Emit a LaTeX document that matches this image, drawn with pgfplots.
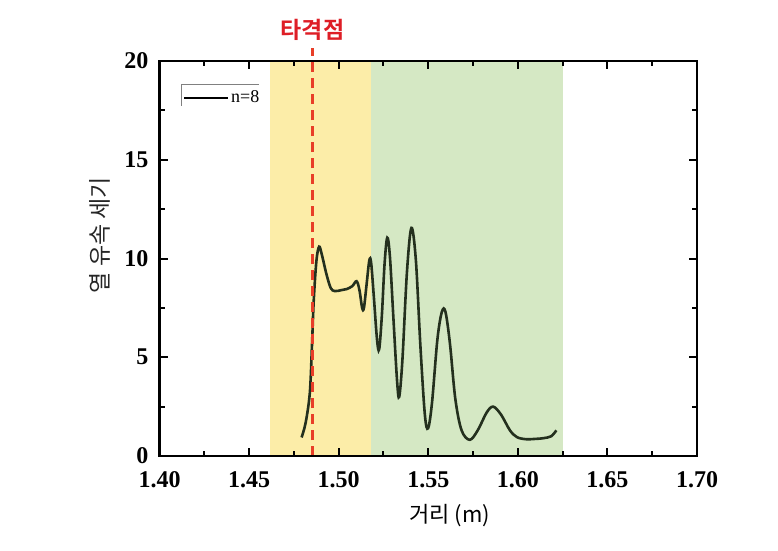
\documentclass[border=0pt]{standalone}
\usepackage{pgfplots}
\pgfplotsset{compat=1.18}
\usepackage{fontspec}
\setmainfont{Liberation Serif}
\newfontfamily\kr[BoldFont={Noto Sans CJK KR Bold}]{Noto Sans CJK KR}
\definecolor{bandY}{RGB}{252,237,168}
\definecolor{bandG}{RGB}{213,232,196}
\definecolor{curve}{RGB}{36,48,30}
\definecolor{hitred}{RGB}{232,62,40}
\definecolor{titlered}{RGB}{222,30,38}
\begin{document}
\begin{tikzpicture}
\useasboundingbox (0,0) rectangle (778pt,550pt);
\begin{axis}[
  at={(159.5pt,94pt)}, anchor=south west,
  scale only axis, width=537.5pt, height=395pt,
  xmin=1.4, xmax=1.7, ymin=0, ymax=20,
  xtick={1.4,1.45,1.5,1.55,1.6,1.65,1.7},
  ytick={0,5,10,15,20},
  minor x tick num=1, minor y tick num=1,
  tick align=inside,
  major tick length=8pt, minor tick length=5pt,
  every tick/.style={line width=2pt, black},
  axis line style={line width=2.5pt},
  axis on top, clip=false,
  /pgf/number format/assume math mode=true,
  ticklabel style={font=\bfseries\fontsize{24}{24}\selectfont, inner sep=1pt},
  xticklabel style={yshift=-14pt, /pgf/number format/.cd, fixed, fixed zerofill, precision=2},
  yticklabel style={xshift=-10pt},
  xlabel={\kr\fontsize{22}{22}\selectfont 거리 (m)},
  xlabel style={at={(axis description cs:0.540,-0.152)}, anchor=center},
  ylabel={\kr\fontsize{23}{23}\selectfont 열 유속 세기},
  ylabel style={at={(axis description cs:-0.111,0.559)}, anchor=center, color=black!85},
  legend style={at={(axis cs:1.4131,18.15)}, anchor=west, draw=none, fill=none,
    inner sep=0pt, font=\fontsize{18}{18}\selectfont,
    nodes={inner sep=2pt}},
  legend image code/.code={\draw[black, line width=2pt] (0pt,0pt) -- (44pt,0pt);},
]
\addplot[draw=none, fill=bandY, forget plot] coordinates {(1.4617,0) (1.5180,0) (1.5180,20) (1.4617,20)} -- cycle;
\addplot[draw=none, fill=bandG, forget plot] coordinates {(1.5180,0) (1.6252,0) (1.6252,20) (1.5180,20)} -- cycle;
\addplot[curve, line width=2.6pt, smooth, tension=0.55] coordinates {
(1.4793,0.94) (1.4816,1.7) (1.4839,3.2) (1.4851,5.6) (1.4861,7.9) (1.4876,9.9)
(1.4891,10.6) (1.4906,10.2) (1.4932,9.2) (1.4956,8.5) (1.4979,8.35) (1.5016,8.4)
(1.5044,8.45) (1.5076,8.6) (1.5100,8.85) (1.5116,8.4) (1.5131,7.5) (1.5141,7.5)
(1.5156,8.7) (1.5171,9.9) (1.5181,9.8) (1.5196,8.1) (1.5214,5.9) (1.5226,5.4)
(1.5241,7.1) (1.5256,9.7) (1.5271,11.05) (1.5286,10.1) (1.5306,6.9) (1.5326,3.8)
(1.5338,3.0) (1.5356,4.9) (1.5381,9.3) (1.5406,11.55) (1.5431,9.9) (1.5456,5.6)
(1.5481,2.1) (1.5499,1.4) (1.5521,2.7) (1.5551,5.9) (1.5576,7.3) (1.5596,7.3)
(1.5621,5.7) (1.5651,2.9) (1.5686,1.3) (1.5732,0.82) (1.5776,1.3) (1.5826,2.2)
(1.5862,2.5) (1.5906,2.1) (1.5956,1.3) (1.5996,0.95) (1.6046,0.85) (1.6086,0.86)
(1.6141,0.9) (1.6186,1.0) (1.6215,1.3)};
\addlegendentry{n=8}
\addplot[hitred, line width=2.8pt, dash pattern=on 10pt off 6pt, forget plot] coordinates {(1.4854,0) (1.4854,20.65)};
\draw[gray, line width=1.2pt] (axis cs:1.4124,17.73) |- (axis cs:1.4558,18.83);
\node[text=titlered, font=\kr\bfseries\fontsize{23}{23}\selectfont, anchor=center] at (axis cs:1.4854,21.6) {타격점};
\end{axis}
\end{tikzpicture}
\end{document}
